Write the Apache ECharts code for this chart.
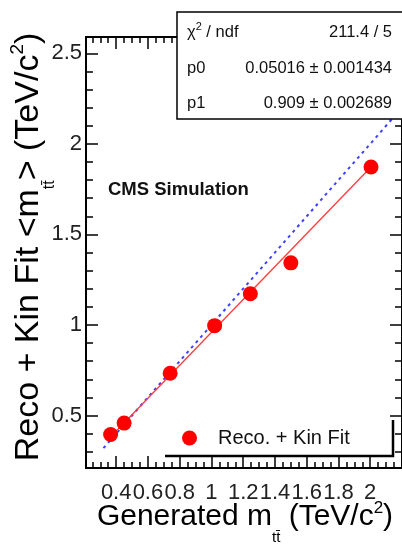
<!DOCTYPE html>
<html>
<head>
<meta charset="utf-8">
<script src="https://cdn.jsdelivr.net/npm/echarts@6/dist/echarts.min.js"></script>
<style>
  html, body { margin: 0; padding: 0; background: #fff; }
  #chart { width: 402px; height: 551px; }
</style>
</head>
<body>
<div id="chart"></div>
<script>
// generated vs reconstructed mass points
var genMass = [0.365, 0.45, 0.74, 1.02, 1.245, 1.5, 2.005];
var recoMass = [0.395, 0.458, 0.733, 0.996, 1.172, 1.343, 1.872];

// fit line end points (p0 + p1 * x) and the y = x reference line
var fitX = [0.36, 2.0];
var fitY = [0.377, 1.868];
var diagX = [0.32, 2.2];
var diagY = [0.32, 2.2];

// axis ticks
var xMajor = [0.4, 0.6, 0.8, 1, 1.2, 1.4, 1.6, 1.8, 2];
var yMajor = [0.5, 1, 1.5, 2, 2.5];

// stats box
var statNames = ['p0', 'p1'];
var statValues = ['0.05016 \u00b1 0.001434', '0.909 \u00b1 0.002689'];
var chi2Text = '211.4 / 5';

var FONT = '"Liberation Sans", Arial, Helvetica, sans-serif';

function minorTicks(from, to, step) {
  var out = [];
  for (var i = 0; from + i * step <= to + 1e-9; i++) {
    out.push(Math.round((from + i * step) * 1000) / 1000);
  }
  return out;
}
var xMinor = minorTicks(0.25, 2.2, 0.05);
var yMinor = minorTicks(0.3, 2.5, 0.1);

function pairs(xs, ys) {
  return xs.map(function (x, i) { return [x, ys[i]]; });
}

var chart = echarts.init(document.getElementById('chart'));

// one axis per tick set: major / minor, both sides
function xAx(pos, ticks, len, labels) {
  return {
    type: 'value', position: pos, min: 0.21, max: 2.2,
    axisLine: { show: true, onZero: false, lineStyle: { color: '#000', width: 2 } },
    axisTick: { show: true, inside: true, length: len, customValues: ticks, lineStyle: { color: '#000', width: 1.5 } },
    axisLabel: labels ? {
      show: true, customValues: ticks, margin: 14, fontSize: 22, color: '#222', fontFamily: FONT,
      hideOverlap: false, showMinLabel: true, showMaxLabel: true
    } : { show: false },
    splitLine: { show: false }
  };
}
function yAx(pos, ticks, len, labels) {
  return {
    type: 'value', position: pos, min: 0.21, max: 2.59,
    axisLine: { show: true, onZero: false, lineStyle: { color: '#000', width: 2 } },
    axisTick: { show: true, inside: true, length: len, customValues: ticks, lineStyle: { color: '#000', width: 1.5 } },
    axisLabel: labels ? {
      show: true, customValues: ticks, margin: 4, fontSize: 22, color: '#222', fontFamily: FONT,
      hideOverlap: false
    } : { show: false },
    splitLine: { show: false }
  };
}

var option = {
  animation: false,
  backgroundColor: '#fff',
  grid: { left: 86, top: 37, width: 321, height: 431 },
  xAxis: [
    xAx('bottom', xMajor, 12, true),
    xAx('bottom', xMinor, 6, false),
    xAx('top', xMajor, 12, false),
    xAx('top', xMinor, 6, false)
  ],
  yAxis: [
    yAx('left', yMajor, 12, true),
    yAx('left', yMinor, 7, false),
    yAx('right', yMajor, 12, false),
    yAx('right', yMinor, 7, false)
  ],
  legend: {
    data: ['Reco. + Kin Fit'],
    left: 182, top: 428, padding: 0,
    icon: 'circle', itemWidth: 15, itemHeight: 15,
    formatter: function (name) { return '{t|' + name + '}'; },
    textStyle: {
      rich: { t: { fontSize: 20, color: '#111', fontFamily: FONT, padding: [0, 0, 0, 16] } }
    }
  },
  series: [
    {
      name: 'diag', type: 'line', data: pairs(diagX, diagY),
      showSymbol: false, silent: true, z: 1,
      lineStyle: { color: '#4040ff', width: 2, type: [3, 4] }
    },
    {
      name: 'fit', type: 'line', data: pairs(fitX, fitY),
      showSymbol: false, silent: true, z: 2,
      lineStyle: { color: '#ff3b3b', width: 1.3 }
    },
    {
      name: 'Reco. + Kin Fit', type: 'scatter', data: pairs(genMass, recoMass),
      symbol: 'circle', symbolSize: 15, z: 3,
      itemStyle: { color: '#ff0000', opacity: 1 }
    }
  ],
  graphic: [
    // stats box
    {
      type: 'rect', z: 100,
      shape: { x: 177, y: 12, width: 240, height: 107 },
      style: { fill: '#fff', stroke: '#000', lineWidth: 1.5 }
    },
    {
      type: 'text', z: 101, x: 187, y: 32,
      style: {
        text: '{a|\u03c7}{s|2}{a| / ndf}', verticalAlign: 'middle',
        rich: {
          a: { fontSize: 16.5, fontFamily: FONT, fill: '#111' },
          s: { fontSize: 11, fontFamily: FONT, fill: '#111', padding: [0, 0, 10, 0] }
        }
      }
    },
    {
      type: 'text', z: 101, x: 392, y: 32,
      style: { text: chi2Text, align: 'right', verticalAlign: 'middle', font: '16.5px ' + FONT, fill: '#111' }
    },
    {
      type: 'text', z: 101, x: 187, y: 68,
      style: { text: statNames[0], verticalAlign: 'middle', font: '16.5px ' + FONT, fill: '#111' }
    },
    {
      type: 'text', z: 101, x: 392, y: 68,
      style: { text: statValues[0], align: 'right', verticalAlign: 'middle', font: '16.5px ' + FONT, fill: '#111' }
    },
    {
      type: 'text', z: 101, x: 187, y: 103,
      style: { text: statNames[1], verticalAlign: 'middle', font: '16.5px ' + FONT, fill: '#111' }
    },
    {
      type: 'text', z: 101, x: 392, y: 103,
      style: { text: statValues[1], align: 'right', verticalAlign: 'middle', font: '16.5px ' + FONT, fill: '#111' }
    },
    // legend shadow
    {
      type: 'polyline', z: 100,
      shape: { points: [[165, 456], [393, 456], [393, 420]] },
      style: { stroke: '#000', lineWidth: 2.5, fill: null }
    },
    // CMS label
    {
      type: 'text', z: 100, x: 108, y: 190,
      style: { text: 'CMS Simulation', verticalAlign: 'middle', font: 'bold 18.5px ' + FONT, fill: '#111' }
    },
    // x axis title
    {
      type: 'text', z: 100, x: 245, y: 517,
      style: {
        text: '{a|Generated m}{b|tt\u0304}{a| (TeV/c}{c|2}{a|)}',
        align: 'center', verticalAlign: 'middle',
        rich: {
          a: { fontSize: 30, fontFamily: FONT, fill: '#000' },
          b: { fontSize: 15, fontFamily: FONT, fill: '#000', padding: [42, 0, 0, 0] },
          c: { fontSize: 17, fontFamily: FONT, fill: '#000', padding: [0, 0, 18, 0] }
        }
      }
    },
    // y axis title
    {
      type: 'text', z: 100, x: 29, y: 247, rotation: Math.PI / 2,
      style: {
        text: '{a|Reco + Kin Fit <m}{b|tt\u0304}{a|> (TeV/c}{c|2}{a|)}',
        align: 'center', verticalAlign: 'middle',
        rich: {
          a: { fontSize: 34, fontFamily: FONT, fill: '#000' },
          b: { fontSize: 16, fontFamily: FONT, fill: '#000', padding: [42, 0, 0, 0] },
          c: { fontSize: 19, fontFamily: FONT, fill: '#000', padding: [0, 0, 22, 0] }
        }
      }
    }
  ]
};

chart.setOption(option);
</script>
</body>
</html>
